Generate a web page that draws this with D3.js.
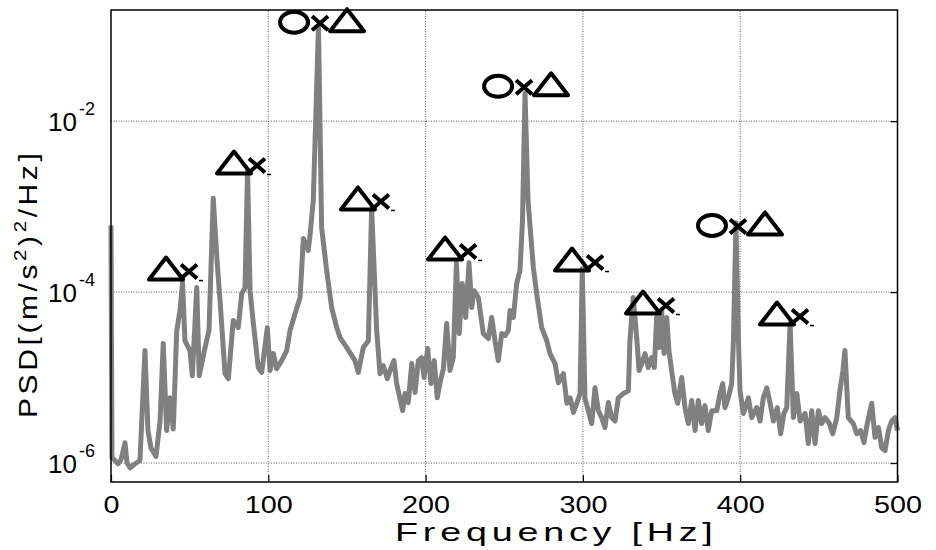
<!DOCTYPE html>
<html>
<head>
<meta charset="utf-8">
<script src="https://cdn.jsdelivr.net/npm/d3@7.9.0/dist/d3.min.js"></script>
<style>
  body { margin: 0; background: #fff; }
  svg { display: block; }
  text { font-family: "Liberation Sans", Arial, sans-serif; fill: #000; }
</style>
</head>
<body>
<svg id="chart" width="936" height="550"></svg>
<script>
// PSD trace (Hz, (m/s^2)^2/Hz)
const freq = [0, 0.6, 2.5, 4.5, 6.4, 8.9, 10.2, 12.1, 15.3, 18.4, 21.6, 23.5, 25.4, 28.6, 31.2, 33.2, 35.4, 37.5, 39.6, 41.8,
  43.9, 45.5, 47.0, 50.2, 51.7, 54.5, 56.1, 59.8, 62.3, 65.0, 67.4, 69.3, 72.5, 74.6, 77.7, 80.9, 83.1, 85.2, 86.8, 88.4,
  90.3, 93.6, 95.8, 99.4, 101.1, 103.2, 105.3, 108.5, 111.7, 113.8, 117.0, 120.2, 122.3, 125.4, 126.5, 128.6, 131.9, 133.9, 137.1, 140.3,
  143.5, 145.6, 149.8, 155.1, 157.2, 160.4, 163.6, 165.7, 168.9, 169.9, 171.0, 173.1, 175.7, 177.4, 179.9, 181.6, 183.7, 185.4, 186.9, 189.0,
  191.2, 193.3, 195.4, 197.5, 199.0, 201.3, 203.4, 205.5, 207.4, 209.2, 211.3, 213.4, 215.5, 217.6, 219.6, 221.4, 223.3, 225.5, 227.6, 229.3,
  230.8, 233.5, 236.7, 239.9, 242.0, 244.1, 246.2, 248.4, 250.5, 252.6, 253.7, 255.8, 257.9, 260.0, 261.6, 263.2, 265.1, 268.5, 270.6, 273.8,
  277.0, 279.1, 282.3, 284.4, 287.6, 289.8, 291.9, 294.0, 296.1, 298.2, 299.6, 301.3, 303.4, 305.6, 307.7, 309.8, 311.9, 314.0, 316.2, 318.3,
  320.4, 322.5, 325.7, 328.9, 329.9, 332.0, 334.2, 335.7, 337.4, 339.5, 341.6, 343.7, 345.4, 346.9, 348.4, 350.1, 351.6, 353.3, 354.7, 356.4,
  358.5, 360.3, 362.8, 364.9, 367.0, 369.2, 371.3, 373.4, 375.5, 377.6, 379.7, 381.9, 385.1, 387.2, 388.9, 390.3, 392.4, 394.6, 395.7, 397.3,
  398.9, 399.9, 402.0, 405.2, 407.3, 410.5, 412.6, 414.7, 416.9, 419.0, 421.1, 423.6, 425.7, 427.8, 429.6, 431.7, 433.8, 436.0, 438.1, 441.3,
  443.3, 445.5, 447.6, 449.7, 451.8, 454.0, 456.7, 458.8, 461.4, 463.4, 465.3, 466.6, 468.7, 471.9, 474.1, 476.6, 478.7, 480.8, 483.6, 485.7,
  487.9, 490.0, 492.1, 494.2, 496.3, 498.4, 500];
const psd = [6.0e-4, 1.16e-6, 1.07e-6, 9.8e-7, 1.1e-6, 1.73e-6, 1.0e-6, 8.8e-7, 9.8e-7, 1.07e-6, 2.07e-5, 2.4e-6, 1.5e-6, 1.19e-6, 3.1e-6, 2.5e-5, 2.4e-6, 5.8e-6, 2.5e-6, 3.55e-5,
  6.1e-5, 1.3e-4, 2.7e-5, 2.07e-5, 1.05e-5, 1.13e-4, 1.05e-5, 2.25e-5, 3.55e-5, 1.25e-3, 2.35e-4, 8.0e-5, 1.11e-5, 9.7e-6, 4.65e-5, 3.85e-5, 9.6e-5, 1.13e-4, 2.65e-3, 1.04e-4,
  4.65e-5, 1.31e-5, 1.15e-5, 3.85e-5, 1.21e-5, 1.91e-5, 1.27e-5, 1.58e-5, 2.07e-5, 3.55e-5, 5.6e-5, 8.65e-5, 4.25e-4, 3.07e-4, 4.6e-4, 1.18e-3, 0.129, 5.7e-4, 1.79e-4, 6.6e-5,
  3.85e-5, 2.94e-5, 2.25e-5, 1.58e-5, 1.15e-5, 2.25e-5, 2.7e-5, 9.5e-4, 3.55e-5, 2.07e-5, 1.11e-5, 1.38e-5, 9.7e-6, 1.21e-5, 1.58e-5, 8.5e-6, 5.7e-6, 4.1e-6, 6.5e-6, 5.1e-6,
  1.46e-5, 6.7e-6, 1.58e-5, 1.71e-5, 1.0e-5, 2.19e-5, 8.5e-6, 1.58e-5, 5.8e-6, 8.7e-6, 1.27e-5, 4.3e-5, 1.21e-5, 1.71e-5, 2.22e-4, 3.27e-5, 1.26e-4, 5.05e-5, 2.2e-4, 6.6e-5,
  1.04e-4, 8.65e-5, 3.27e-5, 2.86e-5, 5.05e-5, 2.7e-5, 1.58e-5, 3.27e-5, 3.1e-5, 3.55e-5, 6.1e-5, 5.05e-5, 1.26e-4, 1.79e-4, 6.9e-4, 2.11e-2, 1.18e-3, 1.94e-4, 9.6e-5, 3.85e-5,
  2.7e-5, 1.91e-5, 1.46e-5, 8.7e-6, 1.11e-5, 5.0e-6, 5.8e-6, 3.9e-6, 5.0e-6, 6.5e-6, 1.89e-4, 5.8e-6, 4.1e-6, 2.9e-6, 7.6e-6, 4.1e-6, 3.4e-6, 2.6e-6, 5.1e-6, 3.4e-6,
  3.1e-6, 5.8e-6, 6.5e-6, 7.0e-6, 2.7e-5, 8.65e-5, 2.94e-5, 1.21e-5, 1.46e-5, 1.91e-5, 1.31e-5, 1.71e-5, 1.31e-5, 5.05e-5, 2.25e-5, 6.1e-5, 1.91e-5, 5.05e-5, 2.07e-5, 1.21e-5,
  6.5e-6, 5.0e-6, 1.0e-5, 4.45e-6, 2.9e-6, 5.4e-6, 2.4e-6, 5.4e-6, 2.9e-6, 4.7e-6, 2.4e-6, 4.1e-6, 4.1e-6, 6.5e-6, 8.5e-6, 4.45e-6, 5.8e-6, 8.5e-6, 2.7e-5, 6.5e-4,
  2.7e-5, 7.0e-6, 3.8e-6, 5.8e-6, 3.4e-6, 4.45e-6, 3.1e-6, 5.8e-6, 7.6e-6, 5.0e-6, 3.1e-6, 4.45e-6, 2.2e-6, 3.8e-6, 4.45e-6, 4.3e-5, 3.4e-6, 6.5e-6, 3.1e-6, 3.8e-6,
  1.69e-6, 4.1e-6, 1.69e-6, 4.1e-6, 2.9e-6, 3.4e-6, 2.9e-6, 2.2e-6, 3.4e-6, 7.0e-6, 1.21e-5, 2.07e-5, 3.4e-6, 2.9e-6, 2.2e-6, 2.4e-6, 1.73e-6, 2.9e-6, 5.0e-6, 2.0e-6,
  2.6e-6, 1.51e-6, 1.4e-6, 2.4e-6, 3.1e-6, 3.4e-6, 2.4e-6];

// peak annotations: where the "x" sits, and which symbols go round it
const markFreq = [49.6, 92.8, 132.9, 171.6, 227.0, 262.6, 307.7, 352.8, 398.6, 438.0];
const markPsd = [1.74e-4, 3.03e-3, 0.14, 1.15e-3, 2.99e-4, 2.49e-2, 2.22e-4, 6.97e-5, 5.86e-4, 5.18e-5];
const markType = ["tx", "tx", "oxt", "tx", "tx", "oxt", "tx", "tx", "oxt", "tx"];

const xTicks = [0, 100, 200, 300, 400, 500];
const yTicks = [1e-6, 1e-4, 1e-2];
const yTickExp = ["-6", "-4", "-2"];

const margin = { left: 111, right: 38.5, top: 10, bottom: 68 };
const width = 936, height = 550;

const svg = d3.select('#chart');

const x = d3.scaleLinear().domain([0, 500]).range([margin.left, width - margin.right]);
const y = d3.scaleLog().domain([6e-7, 0.2]).range([height - margin.bottom, margin.top]);

// grid
svg.append('g')
  .selectAll('line')
  .data(xTicks.slice(1, -1))
  .join('line')
  .attr('x1', d => x(d)).attr('x2', d => x(d))
  .attr('y1', y.range()[0]).attr('y2', y.range()[1])
  .attr('stroke', '#333').attr('stroke-width', 0.8).attr('stroke-dasharray', '1,1.5');

svg.append('g')
  .selectAll('line')
  .data(yTicks)
  .join('line')
  .attr('x1', x.range()[0]).attr('x2', x.range()[1])
  .attr('y1', d => y(d)).attr('y2', d => y(d))
  .attr('stroke', '#333').attr('stroke-width', 0.8).attr('stroke-dasharray', '1,1.5');

// the trace
const pts = freq.map((f, i) => [f, psd[i]]);
const line = d3.line().x(d => x(d[0])).y(d => y(d[1]));
svg.append('path')
  .datum(pts)
  .attr('d', line)
  .attr('fill', 'none')
  .attr('stroke', '#808080')
  .attr('stroke-width', 5)
  .attr('stroke-linejoin', 'round');

// frame + inward ticks
svg.append('rect')
  .attr('x', x.range()[0]).attr('y', y.range()[1])
  .attr('width', x.range()[1] - x.range()[0])
  .attr('height', y.range()[0] - y.range()[1])
  .attr('fill', 'none').attr('stroke', '#000').attr('stroke-width', 1.5);

const xAxis = d3.axisBottom(x).tickValues(xTicks).tickSizeInner(-7).tickSizeOuter(0).tickFormat(d3.format('d'));
const gx = svg.append('g').attr('transform', `translate(0,${y.range()[0]})`).call(xAxis);
gx.select('.domain').remove();
gx.selectAll('.tick line').attr('stroke-width', 1.2);
gx.selectAll('.tick text')
  .attr('y', 31).attr('dy', 0)
  .attr('textLength', d => String(d).length * 16)
  .attr('lengthAdjust', 'spacingAndGlyphs')
  .style('font-size', '24px')
  .style('font-family', '"Liberation Sans", Arial, sans-serif');

const yAxis = d3.axisRight(y).tickValues(yTicks).tickSizeInner(-7).tickSizeOuter(0).tickFormat('');
const gy = svg.append('g').attr('transform', `translate(${x.range()[1]},0)`).call(yAxis);
gy.select('.domain').remove();
gy.selectAll('.tick line').attr('stroke-width', 1.2);

// y tick labels as 10^n
yTicks.forEach((t, i) => {
  const lab = svg.append('text')
    .attr('x', 48).attr('y', y(t) + 10)
    .style('font-size', '26px');
  lab.append('tspan').text('10');
  lab.append('tspan').attr('dy', -16).attr('dx', 2).style('font-size', '18px').text(yTickExp[i]);
});

// axis titles (the original is drawn wide, so stretch a bit and space out)
svg.append('text')
  .attr('transform', 'translate(395,541) scale(1.45,1)')
  .style('font-size', '26px')
  .style('letter-spacing', '3.3px')
  .text('Frequency [Hz]');

const yl = svg.append('text')
  .attr('transform', 'translate(37,418) rotate(-90) scale(1.2,1)')
  .style('font-size', '25px')
  .style('letter-spacing', '3px');
yl.append('tspan').text('PSD[(m/s');
yl.append('tspan').attr('dy', -11).style('font-size', '17px').text('2');
yl.append('tspan').attr('dy', 11).text(')');
yl.append('tspan').attr('dy', -11).style('font-size', '17px').text('2');
yl.append('tspan').attr('dy', 11).text('/Hz]');

// peak symbols
const marks = svg.append('g')
  .selectAll('g')
  .data(markFreq.map((f, i) => ({ f, p: markPsd[i], t: markType[i] })))
  .join('g')
  .attr('transform', d => `translate(${x(d.f)},${y(d.p)})`)
  .attr('fill', 'none').attr('stroke', '#000').attr('stroke-width', 4);

marks.append('path')
  .attr('d', 'M-8,-7L8,7M-8,7L8,-7');

marks.append('path')
  .attr('stroke-linejoin', 'round')
  .attr('d', d => {
    const cx = d.t === 'oxt' ? 27 : -23;
    return `M${cx - 17},8L${cx + 17},8L${cx},-14Z`;
  });

marks.filter(d => d.t === 'oxt')
  .append('ellipse')
  .attr('cx', -26).attr('cy', -1).attr('rx', 14).attr('ry', 10.5);

marks.filter(d => d.t === 'tx')
  .append('path')
  .attr('stroke-width', 1.5)
  .attr('d', 'M10,9L14,9');
</script>
</body>
</html>
